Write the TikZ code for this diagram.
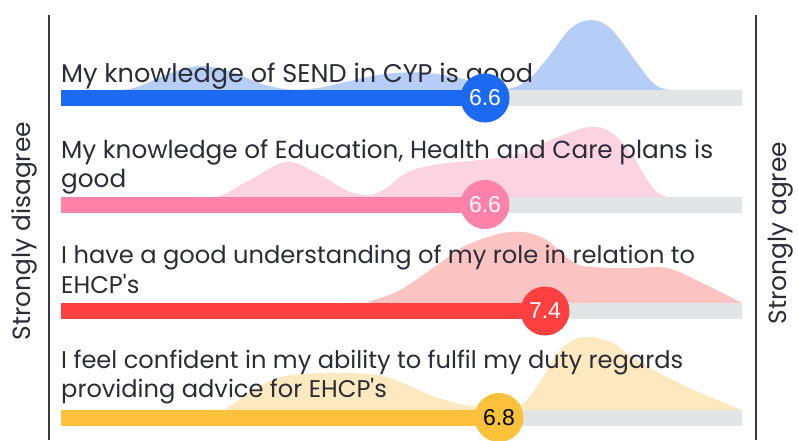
\documentclass[tikz,border=0pt]{standalone}
\usepackage{fontspec}
\setmainfont{Poppins}[Ligatures=TeXOff]
\newfontfamily\numfont{Liberation Sans}
\definecolor{txt}{HTML}{2B2C36}
\definecolor{axisc}{HTML}{3A3A44}
\definecolor{track}{HTML}{E3E4E6}
\definecolor{cBlue}{HTML}{1C6AF2}
\definecolor{cBlueL}{HTML}{B5CDF7}
\definecolor{cPink}{HTML}{FF82A9}
\definecolor{cPinkL}{HTML}{FCD3E0}
\definecolor{cRed}{HTML}{FF4040}
\definecolor{cRedL}{HTML}{FCC3C3}
\definecolor{cYel}{HTML}{FCC13B}
\definecolor{cYelL}{HTML}{FCE9C0}
\newlength\wA
\newcommand\calcfs[3]{%
  \settowidth\wA{\normalfont\fontsize{10pt}{12pt}\selectfont #1}%
  \pgfmathsetmacro#3{10*#2/\wA}}
\begin{document}
\calcfs{My knowledge of SEND in CYP is good}{472}{\fsI}%
\calcfs{My knowledge of Education, Health and Care plans is}{652}{\fsII}%
\calcfs{I have a good understanding of my role in relation to}{634}{\fsIII}%
\calcfs{I feel confident in my ability to fulfil my duty regards}{622}{\fsIV}%
\calcfs{Strongly disagree}{218}{\fsB}%
\begin{tikzpicture}[x=1pt,y=-1pt]
\tikzset{
  lbl/.style={font=\fontsize{#1 pt}{#1 pt}\selectfont, text=txt, inner sep=0, anchor=base west},
  side/.style={font=\fontsize{\fsB pt}{\fsB pt}\selectfont, text=txt, inner sep=0, anchor=base, rotate=90},
  dot/.style={circle, minimum size=49pt, inner sep=0, font=\numfont\fontsize{23pt}{23pt}\selectfont},
  axisline/.style={draw=axisc, line width=2.5pt},
  dens/.style={smooth, tension=0.6}
}
\useasboundingbox (0,0) rectangle (798,440);
\fill[white] (0,0) rectangle (798,440);

% density curves
\fill[cBlueL] plot[dens] coordinates {(61,90) (118,90) (140,86) (168,74) (200,66) (232,72) (262,84) (290,89.5) (318,88) (350,81) (385,74) (420,72.5) (455,77) (485,85) (510,88.5) (530,78) (550,55) (570,29) (590,20) (610,28) (632,56) (652,82) (667,89.5) (690,90) (742,90)} -- cycle;
\fill[cPinkL] plot[dens] coordinates {(61,197) (205,197) (222,195) (250,180) (287,162) (320,175) (348,191) (370,195) (388,187) (408,172) (440,164) (480,160) (520,154) (555,138) (590,127) (612,133) (632,155) (650,184) (664,196) (685,197) (742,197)} -- cycle;
\fill[cRedL] plot[dens] coordinates {(61,303) (345,303) (370,301) (400,290) (433,268) (467,245) (510,232) (543,238) (573,262) (592,267) (630,268) (667,268) (700,282) (742,303)} -- cycle;
\fill[cYelL] plot[dens] coordinates {(61,410) (210,410) (228,407) (252,391) (277,378) (310,373.5) (350,373) (383,376) (405,384) (430,395) (460,404) (490,408) (513,408) (526,401) (541,380) (557,354) (573,340) (590,337) (613,343) (635,359) (683,385) (742,410)} -- cycle;

% statements
\node[lbl=\fsI] (t1) at (61,82) {My knowledge of SEND in CYP is good};
\node[lbl=\fsII] (t2a) at (61,158) {My knowledge of Education, Health and Care plans is};
\node[lbl=\fsII] (t2b) at (61,187) {good};
\node[lbl=\fsIII] (t3a) at (61,263) {I have a good understanding of my role in relation to};
\node[lbl=\fsIII] (t3b) at (61,293) {EHCP's};
\node[lbl=\fsIV] (t4a) at (61,368) {I feel confident in my ability to fulfil my duty regards};
\node[lbl=\fsIV] (t4b) at (61,397) {providing advice for EHCP's};

% tracks and bars
\fill[track] (61,90) rectangle (742,105.5);
\fill[cBlue] (61,90) rectangle (485,105.5);
\fill[track] (61,197) rectangle (742,212.5);
\fill[cPink] (61,197) rectangle (485,212.5);
\fill[track] (61,303) rectangle (742,318.5);
\fill[cRed] (61,303) rectangle (545,318.5);
\fill[track] (61,410) rectangle (742,425.5);
\fill[cYel] (61,410) rectangle (499,425.5);

% value dots
\node[dot, fill=cBlue, text=white] (v1) at (485,98) {6.6};
\node[dot, fill=cPink, text=white] (v2) at (485,204.5) {6.6};
\node[dot, fill=cRed, text=white] (v3) at (545,311) {7.4};
\node[dot, fill=cYel, text=black] (v4) at (499,417.5) {6.8};

% axes
\coordinate (la) at (49,15);
\coordinate (lb) at (49,440);
\coordinate (ra) at (756,15);
\coordinate (rb) at (756,440);
\draw[axisline] (la) -- (lb);
\draw[axisline] (ra) -- (rb);

% side labels
\node[side] (sl) at (30,231) {Strongly disagree};
\node[side] (sr) at (786,233) {Strongly agree};
\end{tikzpicture}
\end{document}
